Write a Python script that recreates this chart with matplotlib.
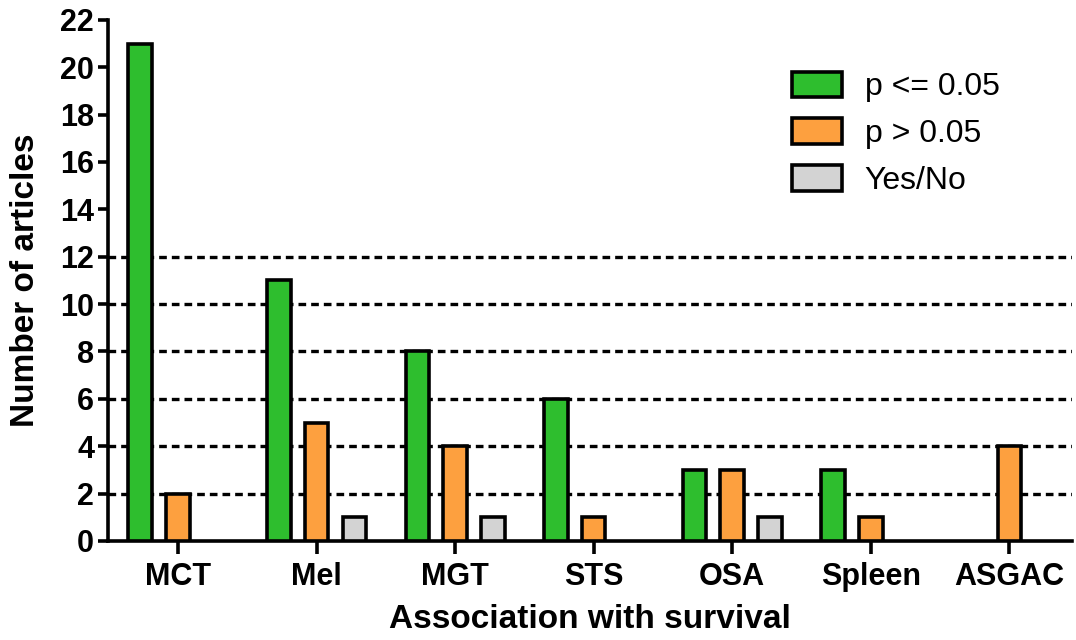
import numpy as np
import matplotlib.pyplot as plt

categories = ["MCT", "Mel", "MGT", "STS", "OSA", "Spleen", "ASGAC"]
sig = [21, 11, 8, 6, 3, 3, 0]        # p <= 0.05
nonsig = [2, 5, 4, 1, 3, 1, 4]       # p > 0.05
yesno = [0, 1, 1, 0, 1, 0, 0]        # Yes/No
grid_levels = [2, 4, 6, 8, 10, 12]

plt.rcParams['font.family'] = ['Liberation Sans', 'DejaVu Sans']

fig = plt.figure(figsize=(10.76, 6.4), dpi=100)
ax = fig.add_axes([0.1004, 0.1547, 0.8956, 0.8143])

x = np.arange(len(categories))
off = 0.273
w = 0.17
lw = 2.6

def masked(v):
    v = np.array(v, dtype=float)
    v[v == 0] = np.nan
    return v

for y in grid_levels:
    ax.axhline(y, color='black', lw=2.4, ls=(0, (2.3, 1.5)), zorder=1)

ax.bar(x - off, masked(sig), w, color='#2EBE2E', edgecolor='black', lw=lw, label='p <= 0.05', zorder=3)
ax.bar(x, masked(nonsig), w, color='#FDA03F', edgecolor='black', lw=lw, label='p > 0.05', zorder=3)
ax.bar(x + off, masked(yesno), w, color='#D3D3D3', edgecolor='black', lw=lw, label='Yes/No', zorder=3)

ax.set_xlim(-0.505, 6.45)
ax.set_ylim(0, 22)
ax.set_yticks(range(0, 23, 2))
ax.set_xticks(x)
ax.set_xticklabels(categories)

for s in ['top', 'right']:
    ax.spines[s].set_visible(False)
for s in ['left', 'bottom']:
    ax.spines[s].set_linewidth(lw)

ax.tick_params(axis='both', direction='out', width=lw, labelsize=22)
ax.tick_params(axis='y', length=7, pad=3)
ax.tick_params(axis='x', length=9, pad=6)
for lab in ax.get_xticklabels() + ax.get_yticklabels():
    lab.set_fontweight('bold')

ax.set_xlabel('Association with survival', fontsize=24, fontweight='bold', labelpad=9)
ax.set_ylabel('Number of articles', fontsize=24, fontweight='bold', labelpad=14)

leg = ax.legend(loc='upper left', bbox_to_anchor=(0.736, 0.888), bbox_transform=fig.transFigure,
                frameon=False, fontsize=23, borderpad=0, borderaxespad=0,
                handlelength=1.56, handleheight=0.85, labelspacing=0.5, handletextpad=0.72)

fig.savefig('out.png', dpi=100)
